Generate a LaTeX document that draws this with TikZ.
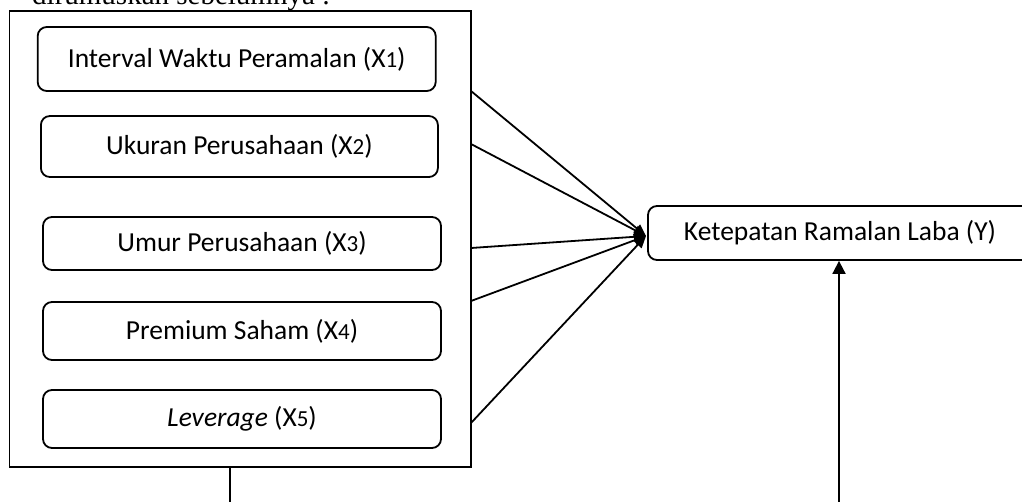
\documentclass[tikz,border=0pt]{standalone}
\usepackage{fontspec}
\setmainfont{Carlito}
\newfontfamily\seriffont{Liberation Serif}
\usetikzlibrary{arrows.meta}
\newcommand{\sx}[1]{{\fontsize{23}{26}\selectfont #1}}
\begin{document}
\begin{tikzpicture}[x=1pt,y=1pt,
  every node/.style={font=\fontsize{27.5}{32}\selectfont},
  ln/.style={line width=1.8pt},
  var/.style={draw,ln,rounded corners=9pt,minimum width=398pt,inner sep=0pt},
  grp/.style={draw,ln,inner sep=0pt},
  conn/.style={ln,-{Triangle[length=12pt,width=10pt]}},
  vconn/.style={ln,-{Triangle[length=13pt,width=13pt]}}]
\useasboundingbox (0,0) rectangle (1022,-501);
\clip (0,0) rectangle (1022,-501);
\node[anchor=base west,inner sep=0pt,font=\seriffont\fontsize{29}{34}\selectfont] (top) at (32,-4.5) {dirumuskan sebelumnya :};
\node[grp,minimum width=461.5pt,minimum height=456pt] (g) at (240.25,-239) {};
\node[var,minimum height=64pt] (x1) at (236.7,-59) {Interval Waktu Peramalan (X\sx{1})};
\node[var,minimum height=61pt,minimum width=397pt] (x2) at (239.4,-146.5) {Ukuran Perusahaan (X\sx{2})};
\node[var,minimum height=53pt] (x3) at (242,-243.5) {Umur Perusahaan (X\sx{3})};
\node[var,minimum height=58pt] (x4) at (242,-331) {Premium Saham (X\sx{4})};
\node[var,minimum height=58pt] (x5) at (242,-419) {\textit{Leverage} (X\sx{5})};
\node[var,minimum height=54pt,minimum width=384pt] (y) at (840,-233) {Ketepatan Ramalan Laba (Y)};
\coordinate (s1) at (471,-91);
\coordinate (s2) at (471,-144);
\coordinate (s3) at (471,-248);
\coordinate (s4) at (471,-301);
\coordinate (s5) at (471,-423);
\coordinate (yin) at (646,-236);
\foreach \s in {s1,s2,s3,s4,s5}{\draw[conn] (\s) -- (yin);}
\coordinate (b1) at (230,-505);
\draw[ln] (g.south -| b1) -- (b1);
\coordinate (b2) at (839,-505);
\draw[vconn] (b2) -- (b2 |- y.south);
\end{tikzpicture}
\end{document}
